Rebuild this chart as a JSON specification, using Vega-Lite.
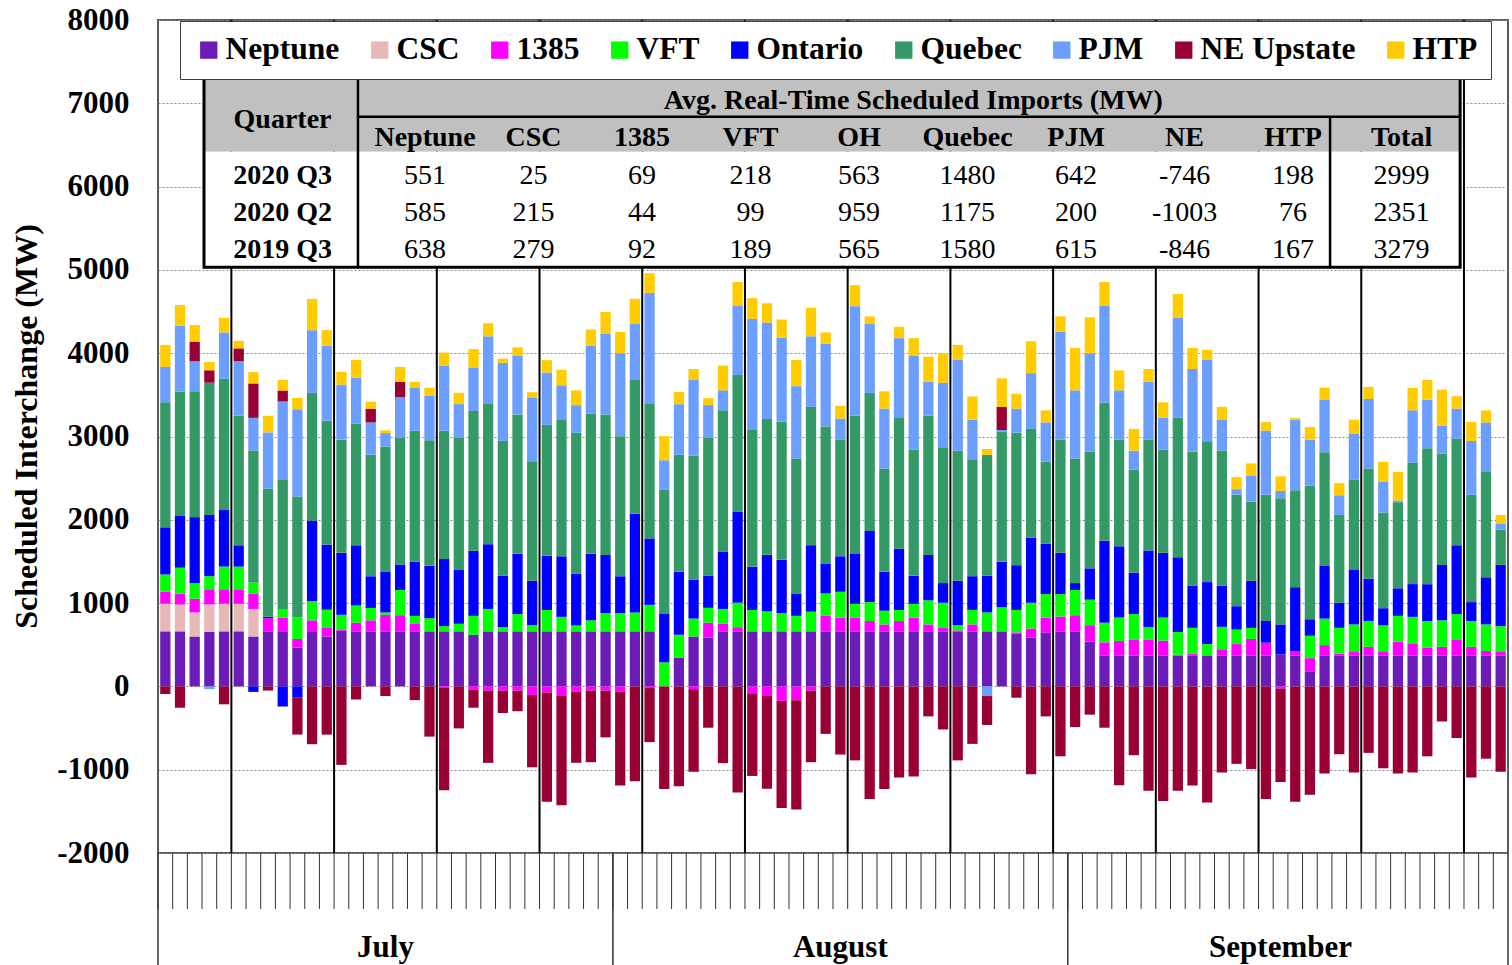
{
  "$schema": "https://vega.github.io/schema/vega-lite/v6.json",
  "width": 1350,
  "height": 833,
  "autosize": {"type": "none"},
  "padding": {"left": 158, "top": 20, "right": 4, "bottom": 112},
  "background": "white",
  "config": {"view": {"stroke": "#5a5a5a", "strokeWidth": 2}, "font": "Liberation Serif"},
  "datasets": {
    "days": [
      {"d":"2020-07-01","Neptune":661,"CSC":331,"1385":145,"VFT":207,"Ontario":566,"Quebec":1500,"PJM":426,"NE Upstate":-91,"HTP":264},
      {"d":"2020-07-02","Neptune":661,"CSC":322,"1385":132,"VFT":310,"Ontario":628,"Quebec":1488,"PJM":789,"NE Upstate":-256,"HTP":248},
      {"d":"2020-07-03","Neptune":599,"CSC":289,"1385":165,"VFT":186,"Ontario":793,"Quebec":1512,"PJM":359,"NE Upstate":236,"HTP":198},
      {"d":"2020-07-04","Neptune":653,"CSC":331,"1385":182,"VFT":157,"Ontario":736,"Quebec":1587,"PJM":-33,"NE Upstate":149,"HTP":99},
      {"d":"2020-07-05","Neptune":661,"CSC":331,"1385":174,"VFT":273,"Ontario":678,"Quebec":1578,"PJM":554,"NE Upstate":-215,"HTP":174},
      {"d":"2020-07-06","Neptune":661,"CSC":331,"1385":165,"VFT":281,"Ontario":256,"Quebec":1558,"PJM":653,"NE Upstate":153,"HTP":91},
      {"d":"2020-07-07","Neptune":599,"CSC":331,"1385":186,"VFT":132,"Ontario":-66,"Quebec":1583,"PJM":393,"NE Upstate":413,"HTP":136},
      {"d":"2020-07-08","Neptune":661,"CSC":0,"1385":157,"VFT":0,"Ontario":17,"Quebec":1541,"PJM":674,"NE Upstate":-50,"HTP":198},
      {"d":"2020-07-09","Neptune":661,"CSC":0,"1385":165,"VFT":103,"Ontario":-240,"Quebec":1558,"PJM":934,"NE Upstate":132,"HTP":124},
      {"d":"2020-07-10","Neptune":467,"CSC":0,"1385":103,"VFT":256,"Ontario":-136,"Quebec":1455,"PJM":1045,"NE Upstate":-442,"HTP":136},
      {"d":"2020-07-11","Neptune":653,"CSC":0,"1385":140,"VFT":231,"Ontario":967,"Quebec":1533,"PJM":752,"NE Upstate":-694,"HTP":376},
      {"d":"2020-07-12","Neptune":599,"CSC":0,"1385":103,"VFT":219,"Ontario":781,"Quebec":1488,"PJM":901,"NE Upstate":-579,"HTP":186},
      {"d":"2020-07-13","Neptune":669,"CSC":0,"1385":8,"VFT":182,"Ontario":744,"Quebec":1359,"PJM":661,"NE Upstate":-942,"HTP":153},
      {"d":"2020-07-14","Neptune":661,"CSC":0,"1385":103,"VFT":207,"Ontario":723,"Quebec":1459,"PJM":554,"NE Upstate":-157,"HTP":211},
      {"d":"2020-07-15","Neptune":661,"CSC":0,"1385":132,"VFT":149,"Ontario":380,"Quebec":1459,"PJM":388,"NE Upstate":165,"HTP":83},
      {"d":"2020-07-16","Neptune":661,"CSC":0,"1385":198,"VFT":29,"Ontario":492,"Quebec":1500,"PJM":161,"NE Upstate":-116,"HTP":33},
      {"d":"2020-07-17","Neptune":661,"CSC":0,"1385":194,"VFT":302,"Ontario":306,"Quebec":1525,"PJM":483,"NE Upstate":186,"HTP":178},
      {"d":"2020-07-18","Neptune":661,"CSC":0,"1385":95,"VFT":91,"Ontario":649,"Quebec":1574,"PJM":512,"NE Upstate":-165,"HTP":74},
      {"d":"2020-07-19","Neptune":661,"CSC":0,"1385":0,"VFT":157,"Ontario":632,"Quebec":1504,"PJM":537,"NE Upstate":-603,"HTP":95},
      {"d":"2020-07-20","Neptune":661,"CSC":0,"1385":-20,"VFT":62,"Ontario":806,"Quebec":1541,"PJM":781,"NE Upstate":-1227,"HTP":157},
      {"d":"2020-07-21","Neptune":661,"CSC":0,"1385":0,"VFT":91,"Ontario":645,"Quebec":1591,"PJM":401,"NE Upstate":-504,"HTP":136},
      {"d":"2020-07-22","Neptune":620,"CSC":0,"1385":-41,"VFT":227,"Ontario":781,"Quebec":1678,"PJM":517,"NE Upstate":-215,"HTP":227},
      {"d":"2020-07-23","Neptune":661,"CSC":0,"1385":-50,"VFT":269,"Ontario":777,"Quebec":1682,"PJM":814,"NE Upstate":-868,"HTP":157},
      {"d":"2020-07-24","Neptune":661,"CSC":0,"1385":-50,"VFT":50,"Ontario":620,"Quebec":1616,"PJM":938,"NE Upstate":-269,"HTP":50},
      {"d":"2020-07-25","Neptune":661,"CSC":0,"1385":-50,"VFT":207,"Ontario":723,"Quebec":1674,"PJM":702,"NE Upstate":-248,"HTP":103},
      {"d":"2020-07-26","Neptune":661,"CSC":0,"1385":-103,"VFT":74,"Ontario":533,"Quebec":1434,"PJM":760,"NE Upstate":-868,"HTP":70},
      {"d":"2020-07-27","Neptune":661,"CSC":0,"1385":-74,"VFT":256,"Ontario":653,"Quebec":1570,"PJM":628,"NE Upstate":-1310,"HTP":149},
      {"d":"2020-07-28","Neptune":661,"CSC":0,"1385":-116,"VFT":174,"Ontario":727,"Quebec":1636,"PJM":417,"NE Upstate":-1310,"HTP":186},
      {"d":"2020-07-29","Neptune":661,"CSC":0,"1385":-62,"VFT":70,"Ontario":624,"Quebec":1690,"PJM":331,"NE Upstate":-855,"HTP":178},
      {"d":"2020-07-30","Neptune":661,"CSC":0,"1385":-50,"VFT":132,"Ontario":798,"Quebec":1686,"PJM":814,"NE Upstate":-860,"HTP":194},
      {"d":"2020-07-31","Neptune":661,"CSC":0,"1385":-50,"VFT":219,"Ontario":698,"Quebec":1686,"PJM":967,"NE Upstate":-562,"HTP":264},
      {"d":"2020-08-01","Neptune":661,"CSC":0,"1385":-62,"VFT":219,"Ontario":442,"Quebec":1682,"PJM":996,"NE Upstate":-1128,"HTP":256},
      {"d":"2020-08-02","Neptune":661,"CSC":0,"1385":0,"VFT":227,"Ontario":1186,"Quebec":1603,"PJM":674,"NE Upstate":-1140,"HTP":302},
      {"d":"2020-08-03","Neptune":661,"CSC":0,"1385":-20,"VFT":318,"Ontario":798,"Quebec":1612,"PJM":1335,"NE Upstate":-649,"HTP":236},
      {"d":"2020-08-04","Neptune":0,"CSC":0,"1385":0,"VFT":289,"Ontario":587,"Quebec":1488,"PJM":351,"NE Upstate":-1231,"HTP":289},
      {"d":"2020-08-05","Neptune":343,"CSC":0,"1385":0,"VFT":277,"Ontario":756,"Quebec":1405,"PJM":607,"NE Upstate":-1198,"HTP":145},
      {"d":"2020-08-06","Neptune":599,"CSC":0,"1385":-33,"VFT":215,"Ontario":467,"Quebec":1488,"PJM":917,"NE Upstate":-992,"HTP":124},
      {"d":"2020-08-07","Neptune":587,"CSC":0,"1385":178,"VFT":178,"Ontario":388,"Quebec":1653,"PJM":393,"NE Upstate":-496,"HTP":83},
      {"d":"2020-08-08","Neptune":661,"CSC":0,"1385":91,"VFT":178,"Ontario":690,"Quebec":1694,"PJM":240,"NE Upstate":-921,"HTP":298},
      {"d":"2020-08-09","Neptune":661,"CSC":0,"1385":50,"VFT":293,"Ontario":1095,"Quebec":1640,"PJM":835,"NE Upstate":-1273,"HTP":281},
      {"d":"2020-08-10","Neptune":661,"CSC":0,"1385":-83,"VFT":256,"Ontario":521,"Quebec":1640,"PJM":1335,"NE Upstate":-992,"HTP":248},
      {"d":"2020-08-11","Neptune":661,"CSC":0,"1385":-116,"VFT":240,"Ontario":678,"Quebec":1632,"PJM":1157,"NE Upstate":-1112,"HTP":231},
      {"d":"2020-08-12","Neptune":661,"CSC":0,"1385":-174,"VFT":219,"Ontario":640,"Quebec":1661,"PJM":1004,"NE Upstate":-1285,"HTP":219},
      {"d":"2020-08-13","Neptune":661,"CSC":0,"1385":-165,"VFT":186,"Ontario":269,"Quebec":1620,"PJM":868,"NE Upstate":-1314,"HTP":314},
      {"d":"2020-08-14","Neptune":661,"CSC":0,"1385":-50,"VFT":236,"Ontario":798,"Quebec":1661,"PJM":847,"NE Upstate":-860,"HTP":343},
      {"d":"2020-08-15","Neptune":661,"CSC":0,"1385":186,"VFT":269,"Ontario":360,"Quebec":1645,"PJM":992,"NE Upstate":-570,"HTP":136},
      {"d":"2020-08-16","Neptune":661,"CSC":0,"1385":165,"VFT":310,"Ontario":426,"Quebec":1401,"PJM":252,"NE Upstate":-818,"HTP":153},
      {"d":"2020-08-17","Neptune":661,"CSC":0,"1385":165,"VFT":165,"Ontario":599,"Quebec":1661,"PJM":1314,"NE Upstate":-888,"HTP":252},
      {"d":"2020-08-18","Neptune":661,"CSC":0,"1385":124,"VFT":227,"Ontario":855,"Quebec":1657,"PJM":826,"NE Upstate":-1351,"HTP":91},
      {"d":"2020-08-19","Neptune":661,"CSC":0,"1385":83,"VFT":165,"Ontario":467,"Quebec":1240,"PJM":719,"NE Upstate":-1231,"HTP":207},
      {"d":"2020-08-20","Neptune":661,"CSC":0,"1385":124,"VFT":132,"Ontario":736,"Quebec":1578,"PJM":950,"NE Upstate":-1095,"HTP":136},
      {"d":"2020-08-21","Neptune":661,"CSC":0,"1385":165,"VFT":165,"Ontario":339,"Quebec":1512,"PJM":1124,"NE Upstate":-1083,"HTP":215},
      {"d":"2020-08-22","Neptune":661,"CSC":0,"1385":83,"VFT":289,"Ontario":545,"Quebec":1674,"PJM":405,"NE Upstate":-360,"HTP":302},
      {"d":"2020-08-23","Neptune":661,"CSC":0,"1385":41,"VFT":302,"Ontario":236,"Quebec":1632,"PJM":773,"NE Upstate":-517,"HTP":355},
      {"d":"2020-08-24","Neptune":661,"CSC":0,"1385":12,"VFT":62,"Ontario":533,"Quebec":1562,"PJM":1095,"NE Upstate":-888,"HTP":174},
      {"d":"2020-08-25","Neptune":661,"CSC":0,"1385":83,"VFT":174,"Ontario":405,"Quebec":1405,"PJM":475,"NE Upstate":-690,"HTP":277},
      {"d":"2020-08-26","Neptune":661,"CSC":0,"1385":0,"VFT":227,"Ontario":442,"Quebec":1450,"PJM":-116,"NE Upstate":-347,"HTP":70},
      {"d":"2020-08-27","Neptune":661,"CSC":0,"1385":0,"VFT":289,"Ontario":545,"Quebec":1562,"PJM":21,"NE Upstate":277,"HTP":343},
      {"d":"2020-08-28","Neptune":632,"CSC":0,"1385":17,"VFT":269,"Ontario":537,"Quebec":1591,"PJM":289,"NE Upstate":-136,"HTP":178},
      {"d":"2020-08-29","Neptune":587,"CSC":0,"1385":107,"VFT":310,"Ontario":781,"Quebec":1306,"PJM":669,"NE Upstate":-1054,"HTP":384},
      {"d":"2020-08-30","Neptune":649,"CSC":0,"1385":178,"VFT":281,"Ontario":607,"Quebec":983,"PJM":471,"NE Upstate":-360,"HTP":145},
      {"d":"2020-08-31","Neptune":661,"CSC":0,"1385":178,"VFT":269,"Ontario":496,"Quebec":1359,"PJM":1293,"NE Upstate":-839,"HTP":186},
      {"d":"2020-09-01","Neptune":661,"CSC":0,"1385":194,"VFT":302,"Ontario":83,"Quebec":1496,"PJM":818,"NE Upstate":-488,"HTP":508},
      {"d":"2020-09-02","Neptune":537,"CSC":0,"1385":198,"VFT":306,"Ontario":376,"Quebec":1401,"PJM":1182,"NE Upstate":-339,"HTP":430},
      {"d":"2020-09-03","Neptune":372,"CSC":0,"1385":157,"VFT":236,"Ontario":983,"Quebec":1661,"PJM":1165,"NE Upstate":-496,"HTP":281},
      {"d":"2020-09-04","Neptune":372,"CSC":0,"1385":174,"VFT":281,"Ontario":855,"Quebec":1281,"PJM":591,"NE Upstate":-1186,"HTP":240},
      {"d":"2020-09-05","Neptune":372,"CSC":0,"1385":186,"VFT":310,"Ontario":496,"Quebec":1240,"PJM":227,"NE Upstate":-826,"HTP":260},
      {"d":"2020-09-06","Neptune":372,"CSC":0,"1385":186,"VFT":153,"Ontario":921,"Quebec":1331,"PJM":694,"NE Upstate":-1252,"HTP":153},
      {"d":"2020-09-07","Neptune":372,"CSC":0,"1385":178,"VFT":277,"Ontario":777,"Quebec":1240,"PJM":380,"NE Upstate":-1376,"HTP":186},
      {"d":"2020-09-08","Neptune":372,"CSC":0,"1385":8,"VFT":273,"Ontario":897,"Quebec":1674,"PJM":1198,"NE Upstate":-1252,"HTP":289},
      {"d":"2020-09-09","Neptune":372,"CSC":0,"1385":21,"VFT":310,"Ontario":508,"Quebec":1607,"PJM":992,"NE Upstate":-1190,"HTP":252},
      {"d":"2020-09-10","Neptune":372,"CSC":0,"1385":0,"VFT":136,"Ontario":744,"Quebec":1690,"PJM":983,"NE Upstate":-1393,"HTP":116},
      {"d":"2020-09-11","Neptune":372,"CSC":0,"1385":74,"VFT":269,"Ontario":496,"Quebec":1620,"PJM":372,"NE Upstate":-1033,"HTP":153},
      {"d":"2020-09-12","Neptune":372,"CSC":0,"1385":136,"VFT":174,"Ontario":281,"Quebec":1339,"PJM":66,"NE Upstate":-930,"HTP":145},
      {"d":"2020-09-13","Neptune":372,"CSC":0,"1385":198,"VFT":132,"Ontario":566,"Quebec":950,"PJM":314,"NE Upstate":-992,"HTP":145},
      {"d":"2020-09-14","Neptune":372,"CSC":0,"1385":153,"VFT":0,"Ontario":260,"Quebec":1516,"PJM":769,"NE Upstate":-1351,"HTP":103},
      {"d":"2020-09-15","Neptune":384,"CSC":0,"1385":-29,"VFT":0,"Ontario":360,"Quebec":1516,"PJM":87,"NE Upstate":-1120,"HTP":174},
      {"d":"2020-09-16","Neptune":372,"CSC":0,"1385":50,"VFT":0,"Ontario":769,"Quebec":1165,"PJM":847,"NE Upstate":-1384,"HTP":21},
      {"d":"2020-09-17","Neptune":174,"CSC":0,"1385":165,"VFT":269,"Ontario":198,"Quebec":1603,"PJM":554,"NE Upstate":-1302,"HTP":149},
      {"d":"2020-09-18","Neptune":372,"CSC":0,"1385":124,"VFT":318,"Ontario":632,"Quebec":1364,"PJM":628,"NE Upstate":-1045,"HTP":149},
      {"d":"2020-09-19","Neptune":372,"CSC":0,"1385":21,"VFT":310,"Ontario":302,"Quebec":1054,"PJM":236,"NE Upstate":-814,"HTP":145},
      {"d":"2020-09-20","Neptune":372,"CSC":0,"1385":50,"VFT":322,"Ontario":661,"Quebec":1074,"PJM":558,"NE Upstate":-1033,"HTP":165},
      {"d":"2020-09-21","Neptune":372,"CSC":0,"1385":103,"VFT":310,"Ontario":508,"Quebec":1322,"PJM":835,"NE Upstate":-798,"HTP":145},
      {"d":"2020-09-22","Neptune":372,"CSC":0,"1385":50,"VFT":310,"Ontario":207,"Quebec":1149,"PJM":372,"NE Upstate":-983,"HTP":236},
      {"d":"2020-09-23","Neptune":372,"CSC":0,"1385":165,"VFT":310,"Ontario":331,"Quebec":1033,"PJM":21,"NE Upstate":-1045,"HTP":343},
      {"d":"2020-09-24","Neptune":372,"CSC":0,"1385":145,"VFT":318,"Ontario":393,"Quebec":1459,"PJM":628,"NE Upstate":-1033,"HTP":269},
      {"d":"2020-09-25","Neptune":372,"CSC":0,"1385":95,"VFT":318,"Ontario":442,"Quebec":1632,"PJM":583,"NE Upstate":-839,"HTP":236},
      {"d":"2020-09-26","Neptune":372,"CSC":0,"1385":103,"VFT":318,"Ontario":665,"Quebec":1339,"PJM":331,"NE Upstate":-421,"HTP":434},
      {"d":"2020-09-27","Neptune":372,"CSC":0,"1385":194,"VFT":302,"Ontario":826,"Quebec":1281,"PJM":360,"NE Upstate":-620,"HTP":149},
      {"d":"2020-09-28","Neptune":372,"CSC":0,"1385":103,"VFT":310,"Ontario":227,"Quebec":1289,"PJM":645,"NE Upstate":-1095,"HTP":227},
      {"d":"2020-09-29","Neptune":372,"CSC":0,"1385":54,"VFT":318,"Ontario":566,"Quebec":1264,"PJM":595,"NE Upstate":-868,"HTP":145},
      {"d":"2020-09-30","Neptune":372,"CSC":0,"1385":41,"VFT":310,"Ontario":736,"Quebec":421,"PJM":70,"NE Upstate":-1025,"HTP":107}
    ],
    "weeks": [
      {"d":"2020-07-06"},{"d":"2020-07-13"},{"d":"2020-07-20"},{"d":"2020-07-27"},
      {"d":"2020-08-03"},{"d":"2020-08-10"},{"d":"2020-08-17"},{"d":"2020-08-24"},{"d":"2020-08-31"},
      {"d":"2020-09-07"},{"d":"2020-09-14"},{"d":"2020-09-21"},{"d":"2020-09-28"}
    ],
    "monthStarts": [{"d":"2020-07-01"},{"d":"2020-08-01"},{"d":"2020-09-01"}],
    "monthEnd": [{"d":"2020-09-30"}],
    "months": [{"m":"July","d":"2020-07-16"},{"m":"August","d":"2020-08-16"},{"m":"September","d":"2020-09-15"}],
    "series": [
      {"s":"Neptune","k":1},{"s":"CSC","k":2},{"s":"1385","k":3},{"s":"VFT","k":4},{"s":"Ontario","k":5},
      {"s":"Quebec","k":6},{"s":"PJM","k":7},{"s":"NE Upstate","k":8},{"s":"HTP","k":9}
    ],
    "table": [
      {"r":0,"c":5.5,"t":"Avg. Real-Time Scheduled Imports (MW)"},
      {"r":0.5,"c":0,"t":"Quarter"},
      {"r":1,"c":1,"t":"Neptune"},{"r":1,"c":2,"t":"CSC"},{"r":1,"c":3,"t":"1385"},{"r":1,"c":4,"t":"VFT"},{"r":1,"c":5,"t":"OH"},
      {"r":1,"c":6,"t":"Quebec"},{"r":1,"c":7,"t":"PJM"},{"r":1,"c":8,"t":"NE"},{"r":1,"c":9,"t":"HTP"},{"r":1,"c":10,"t":"Total"},
      {"r":2,"c":0,"t":"2020 Q3"},{"r":2,"c":1,"t":"551"},{"r":2,"c":2,"t":"25"},{"r":2,"c":3,"t":"69"},{"r":2,"c":4,"t":"218"},{"r":2,"c":5,"t":"563"},
      {"r":2,"c":6,"t":"1480"},{"r":2,"c":7,"t":"642"},{"r":2,"c":8,"t":"-746"},{"r":2,"c":9,"t":"198"},{"r":2,"c":10,"t":"2999"},
      {"r":3,"c":0,"t":"2020 Q2"},{"r":3,"c":1,"t":"585"},{"r":3,"c":2,"t":"215"},{"r":3,"c":3,"t":"44"},{"r":3,"c":4,"t":"99"},{"r":3,"c":5,"t":"959"},
      {"r":3,"c":6,"t":"1175"},{"r":3,"c":7,"t":"200"},{"r":3,"c":8,"t":"-1003"},{"r":3,"c":9,"t":"76"},{"r":3,"c":10,"t":"2351"},
      {"r":4,"c":0,"t":"2019 Q3"},{"r":4,"c":1,"t":"638"},{"r":4,"c":2,"t":"279"},{"r":4,"c":3,"t":"92"},{"r":4,"c":4,"t":"189"},{"r":4,"c":5,"t":"565"},
      {"r":4,"c":6,"t":"1580"},{"r":4,"c":7,"t":"615"},{"r":4,"c":8,"t":"-846"},{"r":4,"c":9,"t":"167"},{"r":4,"c":10,"t":"3279"}
    ]
  },
  "layer": [
    {
      "layer": [
        {
          "data": {"name": "days"},
          "transform": [
            {"fold": ["Neptune", "CSC", "1385", "VFT", "Ontario", "Quebec", "PJM", "NE Upstate", "HTP"], "as": ["s", "v"]},
            {"lookup": "s", "from": {"data": {"name": "series"}, "key": "s", "fields": ["k"]}}
          ],
          "mark": {"type": "bar"},
          "encoding": {
            "x": {"field": "d", "type": "ordinal", "scale": {"paddingInner": 0.3, "paddingOuter": 0.15}, "axis": null},
            "y": {
              "field": "v", "type": "quantitative", "stack": "zero",
              "scale": {"domain": [-2000, 8000], "nice": false, "zero": false},
              "axis": {
                "values": [-2000, -1000, 0, 1000, 2000, 3000, 4000, 5000, 6000, 7000, 8000],
                "labelExpr": "'' + datum.value",
                "labelFont": "Liberation Serif", "labelFontWeight": "bold", "labelFontSize": 31, "labelColor": "black",
                "labelPadding": 29, "labelFlush": false, "labelOverlap": false,
                "ticks": false, "domain": false,
                "grid": true, "gridColor": "#8c8c8c", "gridDash": [2, 2], "gridWidth": 1,
                "title": "Scheduled Interchange (MW)",
                "titleFont": "Liberation Serif", "titleFontSize": 32, "titleFontWeight": "bold", "titleColor": "black",
                "titlePadding": 13, "titleY": 406
              }
            },
            "color": {
              "field": "s", "type": "nominal",
              "scale": {
                "domain": ["Neptune", "CSC", "1385", "VFT", "Ontario", "Quebec", "PJM", "NE Upstate", "HTP"],
                "range": ["#6B1BB7", "#E6B8B7", "#FF00FF", "#00FF00", "#0000FF", "#339966", "#6B9EFF", "#990033", "#FFCC00"]
              },
              "legend": {
                "orient": "none", "legendX": 22, "legendY": 1,
                "direction": "horizontal", "columns": 9, "title": null,
                "symbolType": "square", "symbolSize": 300, "symbolStrokeWidth": 0,
                "labelFont": "Liberation Serif", "labelFontWeight": "bold", "labelFontSize": 31.5, "labelColor": "black",
                "labelOffset": 1, "labelLimit": 0, "columnPadding": 24,
                "padding": 13, "fillColor": "white", "strokeColor": "#404040"
              }
            },
            "order": {"field": "k", "type": "quantitative"}
          }
        },
        {
          "data": {"name": "weeks"},
          "mark": {"type": "rule", "color": "black", "strokeWidth": 2, "xOffset": -2.2},
          "encoding": {
            "x": {"field": "d", "type": "ordinal", "bandPosition": 0, "axis": null},
            "y": {"datum": 8000, "type": "quantitative", "scale": {"domain": [-2000, 8000], "nice": false, "zero": false}},
            "y2": {"datum": -2000}
          }
        },
        {
          "data": {"name": "days"},
          "mark": {"type": "rule", "color": "#333333", "strokeWidth": 1, "xOffset": -2.2},
          "encoding": {
            "x": {"field": "d", "type": "ordinal", "bandPosition": 0, "axis": null},
            "y": {"datum": -2000, "type": "quantitative", "scale": {"domain": [-2000, 8000], "nice": false, "zero": false}},
            "y2": {"datum": -2672}
          }
        },
        {
          "data": {"name": "monthStarts"},
          "mark": {"type": "rule", "color": "#333333", "strokeWidth": 1.5, "xOffset": -2.2},
          "encoding": {
            "x": {"field": "d", "type": "ordinal", "bandPosition": 0, "axis": null},
            "y": {"datum": -2000, "type": "quantitative", "scale": {"domain": [-2000, 8000], "nice": false, "zero": false}},
            "y2": {"datum": -3360}
          }
        },
        {
          "data": {"name": "monthEnd"},
          "mark": {"type": "rule", "color": "#333333", "strokeWidth": 1.5, "xOffset": 2.2},
          "encoding": {
            "x": {"field": "d", "type": "ordinal", "bandPosition": 1, "axis": null},
            "y": {"datum": -2000, "type": "quantitative", "scale": {"domain": [-2000, 8000], "nice": false, "zero": false}},
            "y2": {"datum": -3360}
          }
        },
        {
          "data": {"name": "months"},
          "mark": {"type": "text", "font": "Liberation Serif", "fontWeight": "bold", "fontSize": 31, "color": "black", "baseline": "middle", "align": "center"},
          "encoding": {
            "x": {"field": "d", "type": "ordinal", "axis": null},
            "y": {"datum": -3140, "type": "quantitative", "scale": {"domain": [-2000, 8000], "nice": false, "zero": false}},
            "text": {"field": "m"}
          }
        }
      ]
    },
    {
      "data": {"name": "table"},
      "layer": [
        {
          "data": {"values": [{}]},
          "mark": {"type": "rect", "fill": "#c0c0c0"},
          "encoding": {
            "x": {"datum": -1.037, "type": "quantitative", "scale": {"domain": [-1.461, 10.981], "nice": false, "zero": false}, "axis": null},
            "x2": {"datum": 10.54},
            "y": {"datum": -0.609, "type": "quantitative", "scale": {"domain": [-2.1716, 20.161], "nice": false, "zero": false, "reverse": true}, "axis": null},
            "y2": {"datum": 1.359}
          }
        },
        {
          "data": {"values": [{}]},
          "mark": {"type": "rect", "fill": "white"},
          "encoding": {
            "x": {"datum": -1.037, "type": "quantitative", "scale": {"domain": [-1.461, 10.981], "nice": false, "zero": false}, "axis": null},
            "x2": {"datum": 10.54},
            "y": {"datum": 1.359, "type": "quantitative", "scale": {"domain": [-2.1716, 20.161], "nice": false, "zero": false, "reverse": true}, "axis": null},
            "y2": {"datum": 4.458}
          }
        },
        {
          "data": {"values": [{}]},
          "mark": {"type": "rect", "fillOpacity": 0, "stroke": "black", "strokeWidth": 3},
          "encoding": {
            "x": {"datum": -1.037, "type": "quantitative", "scale": {"domain": [-1.461, 10.981], "nice": false, "zero": false}, "axis": null},
            "x2": {"datum": 10.54},
            "y": {"datum": -0.609, "type": "quantitative", "scale": {"domain": [-2.1716, 20.161], "nice": false, "zero": false, "reverse": true}, "axis": null},
            "y2": {"datum": 4.458}
          }
        },
        {
          "data": {"values": [{}]},
          "mark": {"type": "rule", "color": "black", "strokeWidth": 2.5},
          "encoding": {
            "x": {"datum": 0.382, "type": "quantitative", "scale": {"domain": [-1.461, 10.981], "nice": false, "zero": false}, "axis": null},
            "x2": {"datum": 10.54},
            "y": {"datum": 0.421, "type": "quantitative", "scale": {"domain": [-2.1716, 20.161], "nice": false, "zero": false, "reverse": true}, "axis": null}
          }
        },
        {
          "data": {"values": [{}]},
          "mark": {"type": "rule", "color": "black", "strokeWidth": 2.5},
          "encoding": {
            "x": {"datum": 0.382, "type": "quantitative", "scale": {"domain": [-1.461, 10.981], "nice": false, "zero": false}, "axis": null},
            "y": {"datum": -0.609, "type": "quantitative", "scale": {"domain": [-2.1716, 20.161], "nice": false, "zero": false, "reverse": true}, "axis": null},
            "y2": {"datum": 4.458}
          }
        },
        {
          "data": {"values": [{}]},
          "mark": {"type": "rule", "color": "black", "strokeWidth": 2.5},
          "encoding": {
            "x": {"datum": 9.341, "type": "quantitative", "scale": {"domain": [-1.461, 10.981], "nice": false, "zero": false}, "axis": null},
            "y": {"datum": 0.421, "type": "quantitative", "scale": {"domain": [-2.1716, 20.161], "nice": false, "zero": false, "reverse": true}, "axis": null},
            "y2": {"datum": 4.458}
          }
        },
        {
          "transform": [{"filter": "datum.r >= 2 && datum.c >= 1"}],
          "mark": {"type": "text", "font": "Liberation Serif", "fontSize": 28, "color": "black", "align": "center", "baseline": "middle"},
          "encoding": {
            "x": {"field": "c", "type": "quantitative", "scale": {"domain": [-1.461, 10.981], "nice": false, "zero": false}, "axis": null},
            "y": {"field": "r", "type": "quantitative", "scale": {"domain": [-2.1716, 20.161], "nice": false, "zero": false, "reverse": true}, "axis": null},
            "text": {"field": "t"}
          }
        },
        {
          "transform": [{"filter": "datum.r < 2 && datum.c >= 1"}],
          "mark": {"type": "text", "font": "Liberation Serif", "fontWeight": "bold", "fontSize": 28, "color": "black", "align": "center", "baseline": "middle"},
          "encoding": {
            "x": {"field": "c", "type": "quantitative", "scale": {"domain": [-1.461, 10.981], "nice": false, "zero": false}, "axis": null},
            "y": {"field": "r", "type": "quantitative", "scale": {"domain": [-2.1716, 20.161], "nice": false, "zero": false, "reverse": true}, "axis": null},
            "text": {"field": "t"}
          }
        },
        {
          "transform": [{"filter": "datum.c == 0"}],
          "mark": {"type": "text", "font": "Liberation Serif", "fontWeight": "bold", "fontSize": 28, "color": "black", "align": "center", "baseline": "middle", "dx": -34},
          "encoding": {
            "x": {"field": "c", "type": "quantitative", "scale": {"domain": [-1.461, 10.981], "nice": false, "zero": false}, "axis": null},
            "y": {"field": "r", "type": "quantitative", "scale": {"domain": [-2.1716, 20.161], "nice": false, "zero": false, "reverse": true}, "axis": null},
            "text": {"field": "t"}
          }
        }
      ]
    }
  ],
  "resolve": {"scale": {"x": "independent", "y": "independent"}, "axis": {"x": "independent", "y": "independent"}}
}
